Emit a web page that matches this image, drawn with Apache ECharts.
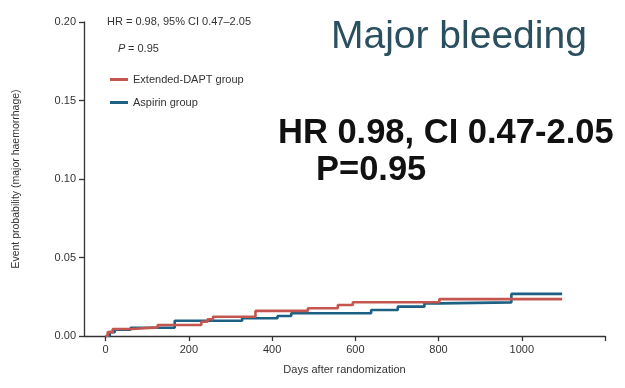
<!DOCTYPE html>
<html><head><meta charset="utf-8">
<script src="https://cdn.jsdelivr.net/npm/echarts@6/dist/echarts.min.js"></script>
<style>html,body{margin:0;padding:0;background:#fff}#c{width:625px;height:388px}</style>
</head><body><div id="c"></div>
<script>
// Kaplan-Meier step data: [day, cumulative probability]
const dapt = [[0,0],[5,0.0025],[17,0.0045],[63,0.0055],[125,0.007],[230,0.0091],[245,0.0107],[258,0.0123],[360,0.016],[486,0.0177],[558,0.0197],[594,0.0215],[802,0.0235],[1097,0.0235]];
const aspirin = [[0,0],[10,0.0025],[22,0.004],[60,0.0053],[166,0.0097],[328,0.0113],[413,0.0127],[446,0.0145],[638,0.0166],[702,0.0187],[766,0.0208],[803,0.0214],[975,0.0268],[1097,0.0268]];
const xTicks = [0,200,400,600,800,1000,1200];
const xLabels = [0,200,400,600,800,1000];
const seriesNames = ['Extended-DAPT group','Aspirin group'];

const chart = echarts.init(document.getElementById('c'), null, {renderer:'canvas'});
const axisCol = '#333';
chart.setOption({
  backgroundColor:'#ffffff',
  animation:false,
  textStyle:{fontFamily:'Liberation Sans, Arial, sans-serif'},
  grid:{left:84, right:20, top:22, bottom:52},
  legend:{
    orient:'vertical', left:105, top:69, itemWidth:18, itemHeight:3, itemGap:12,
    icon:'rect', data:seriesNames,
    textStyle:{fontSize:11, color:'#333', fontFamily:'Liberation Sans, Arial, sans-serif'}
  },
  xAxis:{
    type:'value', min:-52, max:1200,
    name:'Days after randomization', nameLocation:'middle', nameGap:28,
    nameTextStyle:{fontSize:11, color:'#333'},
    axisLine:{onZero:false, lineStyle:{color:axisCol, width:1.3}},
    axisTick:{show:true, length:5, customValues:xTicks, lineStyle:{color:axisCol, width:1.3}},
    axisLabel:{customValues:xLabels, fontSize:11, color:'#333', margin:8, formatter:v=>String(v)},
    splitLine:{show:false}
  },
  yAxis:{
    type:'value', min:0, max:0.2, interval:0.05,
    name:'Event probability (major haemorrhage)', nameLocation:'middle', nameGap:62,
    nameTextStyle:{fontSize:10.5, color:'#333'},
    axisLine:{show:true, onZero:false, lineStyle:{color:axisCol, width:1.3}},
    axisTick:{show:true, length:5, lineStyle:{color:axisCol, width:1.3}},
    axisLabel:{fontSize:11, color:'#333', margin:8, formatter:v=>v.toFixed(2)},
    splitLine:{show:false}
  },
  series:[
    {name:seriesNames[0], type:'line', step:'end', data:dapt, showSymbol:false, color:'#c4564f',
     lineStyle:{width:2.6, color:'#c4564f'}, z:3},
    {name:seriesNames[1], type:'line', step:'end', data:aspirin, showSymbol:false, color:'#1c6183',
     lineStyle:{width:2.6, color:'#1c6183'}, z:2}
  ],
  graphic:[
    {type:'text', left:107, top:16, style:{text:'HR = 0.98, 95% CI 0.47–2.05', fontSize:11, fill:'#333', fontFamily:'Liberation Sans, Arial, sans-serif'}},
    {type:'text', left:118, top:43, style:{text:'P', fontSize:11, fontStyle:'italic', fill:'#333', fontFamily:'Liberation Sans, Arial, sans-serif'}},
    {type:'text', left:128, top:43, style:{text:'= 0.95', fontSize:11, fill:'#333', fontFamily:'Liberation Sans, Arial, sans-serif'}},
    {type:'text', left:331, top:18, style:{text:'Major bleeding', fontSize:39, fill:'#2a4f5e', fontFamily:'Liberation Sans, Arial, sans-serif'}},
    {type:'text', left:278, top:116, style:{text:'HR 0.98, CI 0.47-2.05', fontSize:34.5, fontWeight:'bold', fill:'#111', fontFamily:'Liberation Sans, Arial, sans-serif'}},
    {type:'text', left:316, top:153, style:{text:'P=0.95', fontSize:34.5, fontWeight:'bold', fill:'#111', fontFamily:'Liberation Sans, Arial, sans-serif'}}
  ]
});
</script></body></html>
